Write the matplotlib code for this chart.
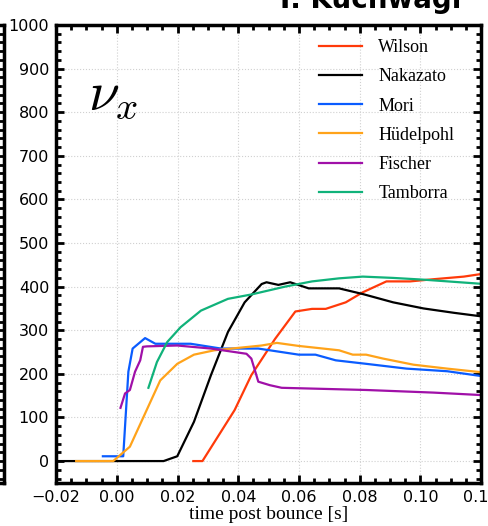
import numpy as np
import matplotlib.pyplot as plt
from matplotlib.ticker import MultipleLocator

# time post bounce [s] and luminosity-like values
wilson_t = [0.0252, 0.0282, 0.0388, 0.0443, 0.0521, 0.0588, 0.0643, 0.0688, 0.0754,
            0.081, 0.0888, 0.0966, 0.1043, 0.1143, 0.121]
wilson_y = [0, 0, 117, 197, 280, 343, 349, 349, 364, 387, 412, 412, 417, 423, 430]

nakazato_t = [-0.02, 0.0154, 0.0199, 0.0254, 0.031, 0.0366, 0.0421, 0.0477, 0.0493,
              0.0532, 0.0571, 0.0632, 0.0732, 0.081, 0.091, 0.101, 0.111, 0.121]
nakazato_y = [0, 0, 11, 90, 197, 296, 364, 406, 410, 404, 410, 396, 396, 383, 364, 350, 340, 331]

mori_t = [-0.0046, 0.0021, 0.0038, 0.0052, 0.0093, 0.0127, 0.0243, 0.0343, 0.0466,
          0.0599, 0.0654, 0.0721, 0.0821, 0.0954, 0.1088, 0.121]
mori_y = [11, 11, 205, 258, 282, 269, 269, 258, 258, 244, 244, 231, 223, 212, 206, 194]

hudel_t = [-0.0134, -0.0012, 0.0043, 0.0143, 0.0199, 0.0254, 0.0321, 0.0477, 0.0527,
           0.0599, 0.0666, 0.0732, 0.0777, 0.0821, 0.0877, 0.0977, 0.1088, 0.121]
hudel_y = [0, 0, 33, 185, 223, 244, 254, 265, 271, 264, 259, 254, 244, 244, 235, 221, 212, 203]

fischer_t = [0.0012, 0.0027, 0.0043, 0.006, 0.0077, 0.0086, 0.0099, 0.0199, 0.031,
             0.0427, 0.0443, 0.0466, 0.0504, 0.0543, 0.0821, 0.1043, 0.121]
fischer_y = [122, 155, 163, 205, 231, 262, 263, 265, 258, 246, 235, 182, 174, 168, 163, 157, 151]

tamborra_t = [0.0104, 0.0132, 0.0166, 0.021, 0.0277, 0.0366, 0.0443, 0.0554, 0.0643,
              0.0732, 0.081, 0.091, 0.101, 0.111, 0.121]
tamborra_y = [168, 227, 273, 307, 345, 372, 382, 400, 412, 419, 423, 420, 416, 411, 406]

labels = ["Wilson", "Nakazato", "Mori", "Hüdelpohl", "Fischer", "Tamborra"]
colors = ["#ff3a0a", "#000000", "#0a5cff", "#ffa31a", "#a010a8", "#10b27a"]

fig = plt.figure(figsize=(4.88, 5.26), dpi=100)

# bit of the neighbouring panel at the left edge
ax0 = fig.add_axes([-0.3, 0.082, 0.3 + 0.0085, 0.8705])
ax0.set_ylim(-50, 1000)
ax0.set_xlim(-0.02, 0.12)
ax0.yaxis.set_major_locator(MultipleLocator(100))
ax0.yaxis.set_minor_locator(MultipleLocator(20))
ax0.tick_params(which="both", direction="in", right=True, left=False,
                labelleft=False, labelbottom=False, width=2)
ax0.tick_params(which="major", length=6)
ax0.tick_params(which="minor", length=3.5)
for s in ax0.spines.values():
    s.set_linewidth(2.5)

ax = fig.add_axes([0.115, 0.082, 0.871, 0.8705])
all_t = [wilson_t, nakazato_t, mori_t, hudel_t, fischer_t, tamborra_t]
all_y = [wilson_y, nakazato_y, mori_y, hudel_y, fischer_y, tamborra_y]
for t, y, lab, c in zip(all_t, all_y, labels, colors):
    ax.plot(t, y, color=c, lw=1.6, label=lab)

ax.set_xlim(-0.02, 0.12)
ax.set_ylim(-50, 1000)
ax.xaxis.set_major_locator(MultipleLocator(0.02))
ax.xaxis.set_minor_locator(MultipleLocator(0.005))
ax.yaxis.set_major_locator(MultipleLocator(100))
ax.yaxis.set_minor_locator(MultipleLocator(20))
ax.xaxis.set_major_formatter(plt.FuncFormatter(
    lambda v, p: ("%.2f" % v).replace("-", "\u2212") if abs(v) > 1e-9 else "0.00"))
ax.grid(True, which="major", color="#d0d0d0", linestyle=":", linewidth=0.8)
ax.set_axisbelow(True)
ax.tick_params(which="both", direction="in", top=True, right=True, width=2, labelsize=11.5)
ax.tick_params(which="major", length=6, pad=5)
ax.tick_params(which="minor", length=3.5)
for s in ax.spines.values():
    s.set_linewidth(2.5)

ax.set_xlabel("time post bounce [s]", family="Liberation Serif", fontsize=14, labelpad=1)

ax.text(0.075, 0.815, r"$\nu_x$", transform=ax.transAxes, fontsize=40,
        math_fontfamily="cm")

leg = ax.legend(loc="upper right", frameon=False, prop={"family": "Liberation Serif", "size": 13},
                handlelength=2.4, handletextpad=0.9, labelspacing=0.68,
                bbox_to_anchor=(0.975, 1.005))

fig.text(0.76, 1.0, "I. Kuchwagi", fontsize=20, fontweight="bold", ha="center", va="center")

fig.savefig("out.png", dpi=100)
